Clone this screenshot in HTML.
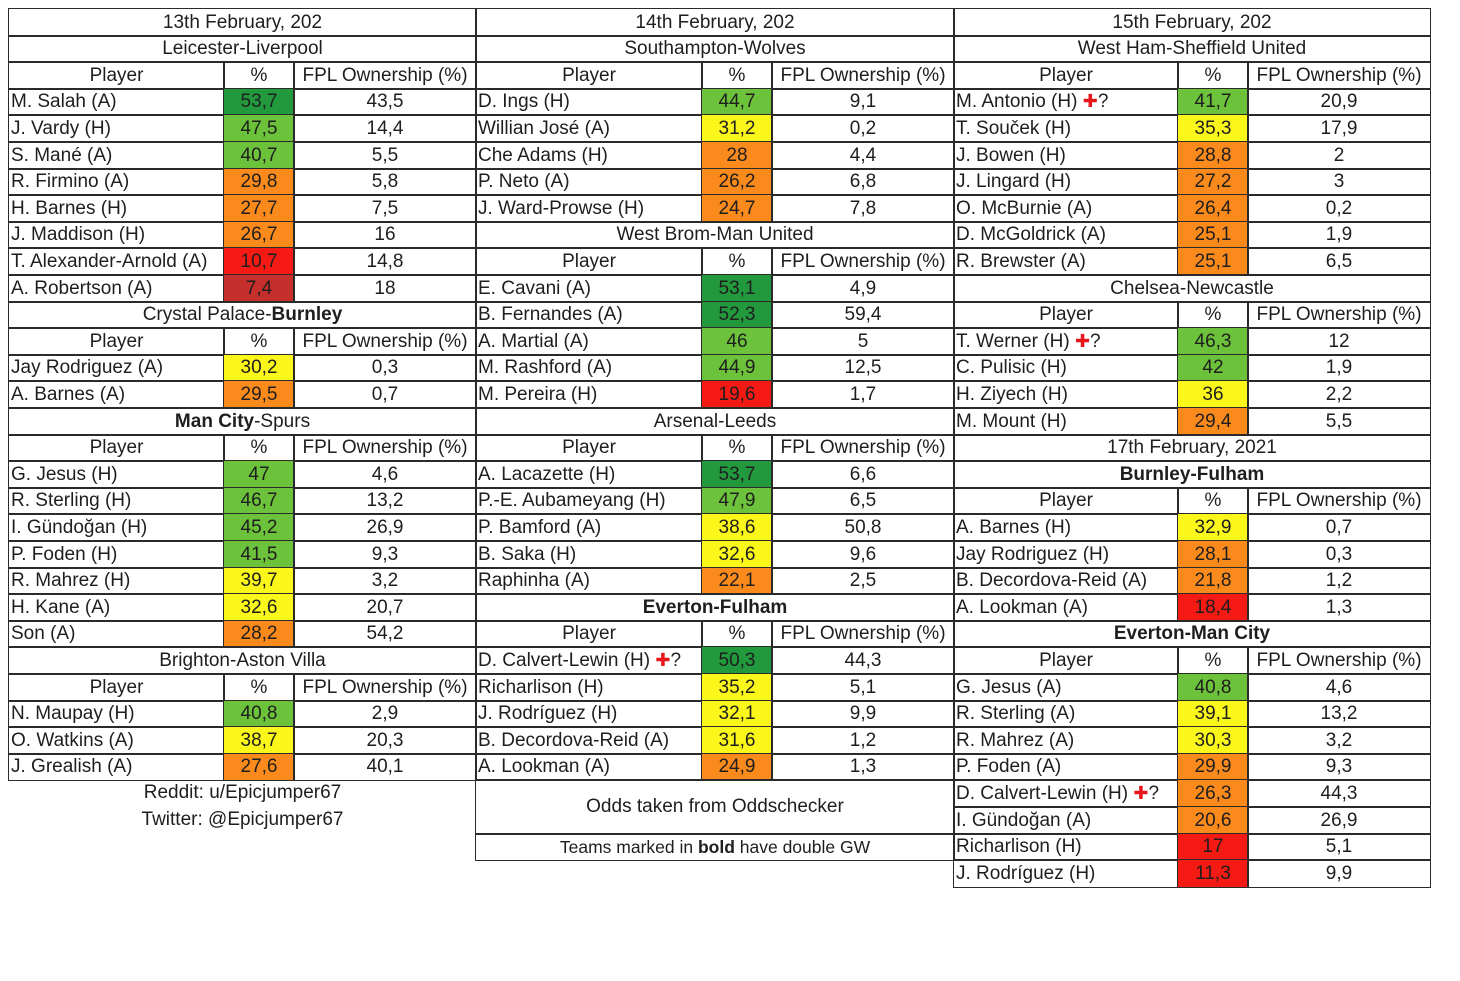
<!DOCTYPE html>
<html><head><meta charset="utf-8">
<style>
body{margin:0;width:1460px;height:981px;background:#fff;position:relative;overflow:hidden;font-family:"Liberation Sans",sans-serif;}
.c{position:absolute;box-sizing:border-box;border:1.5px solid #2a2a2a;font-size:19px;color:#1e1e1e;line-height:24px;white-space:nowrap;overflow:hidden;}
.l{text-align:left;padding-left:2px}
.m{text-align:center}
.x{color:#e8161b;font-family:"DejaVu Sans",sans-serif;font-size:18px}
.t{position:absolute;font-size:19px;color:#1e1e1e;text-align:center;}
</style></head><body>
<div id="root"></div>
<script>
const col1Rows=[
["t","13th February, 202"],["t","Leicester-Liverpool"],["h"],
["d","M. Salah (A)",53.7,"43,5"],["d","J. Vardy (H)",47.5,"14,4"],["d","S. Mané (A)",40.7,"5,5"],["d","R. Firmino (A)",29.8,"5,8"],["d","H. Barnes (H)",27.7,"7,5"],["d","J. Maddison (H)",26.7,"16"],["d","T. Alexander-Arnold (A)",10.7,"14,8"],["d","A. Robertson (A)",7.4,"18"],
["t","Crystal Palace-<b>Burnley</b>"],["h"],["d","Jay Rodriguez (A)",30.2,"0,3"],["d","A. Barnes (A)",29.5,"0,7"],
["t","<b>Man City</b>-Spurs"],["h"],["d","G. Jesus (H)",47,"4,6"],["d","R. Sterling (H)",46.7,"13,2"],["d","I. Gündoğan (H)",45.2,"26,9"],["d","P. Foden (H)",41.5,"9,3"],["d","R. Mahrez (H)",39.7,"3,2"],["d","H. Kane (A)",32.6,"20,7"],["d","Son (A)",28.2,"54,2"],
["t","Brighton-Aston Villa"],["h"],["d","N. Maupay (H)",40.8,"2,9"],["d","O. Watkins (A)",38.7,"20,3"],["d","J. Grealish (A)",27.6,"40,1"]
];
const col2Rows=[
["t","14th February, 202"],["t","Southampton-Wolves"],["h"],
["d","D. Ings (H)",44.7,"9,1"],["d","Willian José (A)",31.2,"0,2"],["d","Che Adams (H)",28,"4,4"],["d","P. Neto (A)",26.2,"6,8"],["d","J. Ward-Prowse (H)",24.7,"7,8"],
["t","West Brom-Man United"],["h"],["d","E. Cavani (A)",53.1,"4,9"],["d","B. Fernandes (A)",52.3,"59,4"],["d","A. Martial (A)",46,"5"],["d","M. Rashford (A)",44.9,"12,5"],["d","M. Pereira (H)",19.6,"1,7"],
["t","Arsenal-Leeds"],["h"],["d","A. Lacazette (H)",53.7,"6,6"],["d","P.-E. Aubameyang (H)",47.9,"6,5"],["d","P. Bamford (A)",38.6,"50,8"],["d","B. Saka (H)",32.6,"9,6"],["d","Raphinha (A)",22.1,"2,5"],
["t","<b>Everton-Fulham</b>"],["h"],["d","D. Calvert-Lewin (H)",50.3,"44,3",1],["d","Richarlison (H)",35.2,"5,1"],["d","J. Rodríguez (H)",32.1,"9,9"],["d","B. Decordova-Reid (A)",31.6,"1,2"],["d","A. Lookman (A)",24.9,"1,3"]
];
const col3Rows=[
["t","15th February, 202"],["t","West Ham-Sheffield United"],["h"],
["d","M. Antonio (H)",41.7,"20,9",1],["d","T. Souček (H)",35.3,"17,9"],["d","J. Bowen (H)",28.8,"2"],["d","J. Lingard (H)",27.2,"3"],["d","O. McBurnie (A)",26.4,"0,2"],["d","D. McGoldrick (A)",25.1,"1,9"],["d","R. Brewster (A)",25.1,"6,5"],
["t","Chelsea-Newcastle"],["h"],["d","T. Werner (H)",46.3,"12",1],["d","C. Pulisic (H)",42,"1,9"],["d","H. Ziyech (H)",36,"2,2"],["d","M. Mount (H)",29.4,"5,5"],
["t","17th February, 2021"],["t","<b>Burnley-Fulham</b>"],["h"],["d","A. Barnes (H)",32.9,"0,7"],["d","Jay Rodriguez (H)",28.1,"0,3"],["d","B. Decordova-Reid (A)",21.8,"1,2"],["d","A. Lookman (A)",18.4,"1,3"],
["t","<b>Everton-Man City</b>"],["h"],["d","G. Jesus (A)",40.8,"4,6"],["d","R. Sterling (A)",39.1,"13,2"],["d","R. Mahrez (A)",30.3,"3,2"],["d","P. Foden (A)",29.9,"9,3"],["d","D. Calvert-Lewin (H)",26.3,"44,3",1],["d","I. Gündoğan (A)",20.6,"26,9"],["d","Richarlison (H)",17,"5,1"],["d","J. Rodríguez (H)",11.3,"9,9"]
];
const cols=[[9,224,294,476],[476,702,772,954],[954,1178,1248,1430]];
const TOP=9,RH=26.6;
const root=document.getElementById('root');
function color(v){
  if(v>=50)return"#23993e"; if(v>=40)return"#6cc23a"; if(v>=30)return"#fbf71a";
  if(v>=20)return"#fb8a1c"; if(v>=10)return"#f51a14"; return"#c6302c";
}
function fmt(v){return String(v).replace('.',',');}
function cell(x1,x2,i,span,html,cls,bg){
  const d=document.createElement('div');
  d.className='c '+cls;
  const y1=Math.round(TOP+i*RH), y2=Math.round(TOP+(i+span)*RH);
  d.style.left=(x1-1)+'px';d.style.top=(y1-1)+'px';
  d.style.width=(x2-x1+2)+'px';d.style.height=(y2-y1+2)+'px';
  d.style.lineHeight=(y2-y1)+'px';
  if(bg)d.style.background=bg;
  d.innerHTML=html;
  root.appendChild(d);return d;
}
[col1Rows,col2Rows,col3Rows].forEach((rows,ci)=>{
  const [a,b,c,e]=cols[ci];
  rows.forEach((r,i)=>{
    if(r[0]==='t'){
      const el=cell(a,e,i,1,r[1],'m');
      
      
    }else if(r[0]==='h'){
      const h1=cell(a,b,i,1,'Player','m');
      
      
      const h2=cell(b,c,i,1,'%','m');
      
      
      const h3=cell(c,e,i,1,'FPL Ownership (%)','m');
      
      
    }else{
      const nm=r[1]+(r[4]?' <span class="x">✚</span>?':'');
      const p=cell(a,b,i,1,nm,'l');
      
      
      const q=cell(b,c,i,1,fmt(r[2]),'m',color(r[2]));
      
      
      const o=cell(c,e,i,1,r[3],'m');
      
      
    }
  });
});
const n1=cell(476,954,29,2,'Odds taken from Oddschecker','m');


const n2=cell(476,954,31,1,'Teams marked in <b>bold</b> have double GW','m');
n2.style.fontSize='17.5px';


[["Reddit: u/Epicjumper67",794],["Twitter: @Epicjumper67",821]].forEach(([t,y])=>{
  const d=document.createElement('div');
  d.className='t';d.style.left='9px';d.style.width='467px';d.style.top=(y-12)+'px';
  d.textContent=t;
  
  
  root.appendChild(d);
});
</script>
</body></html>
